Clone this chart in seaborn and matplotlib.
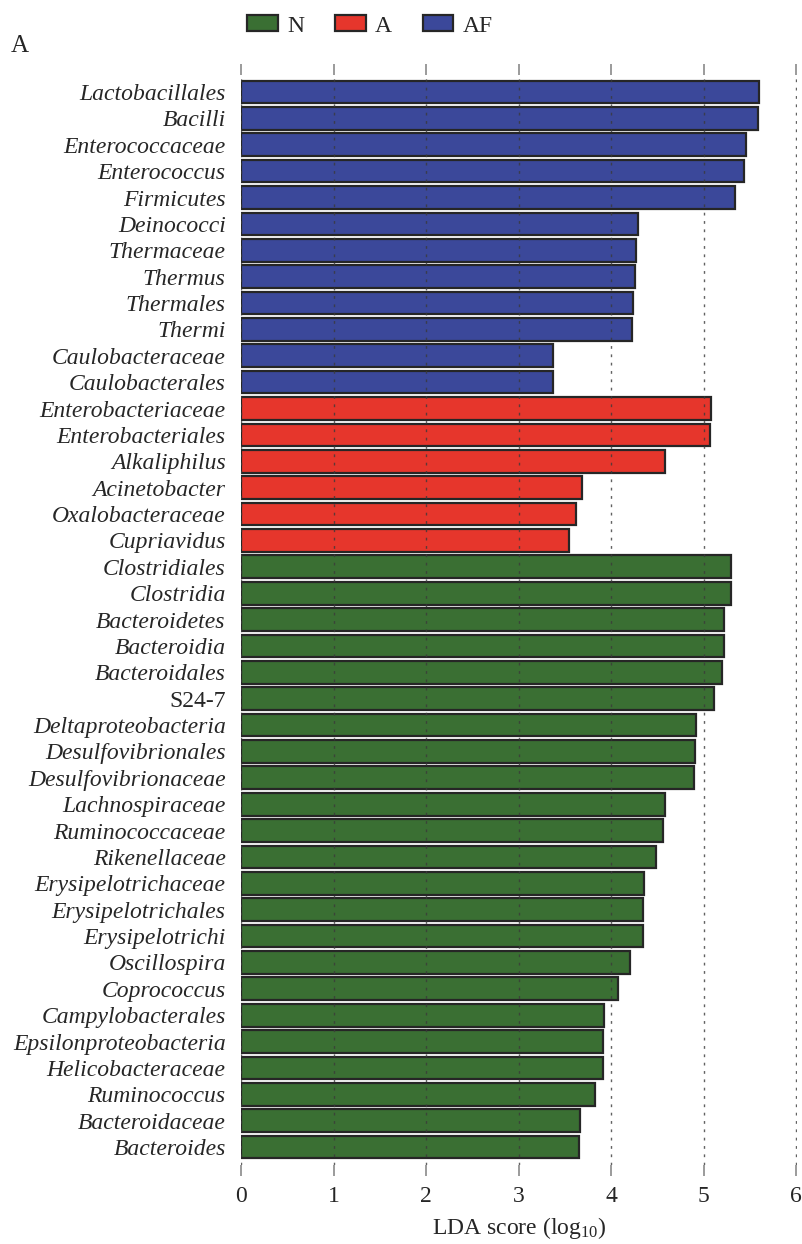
import matplotlib
matplotlib.use("Agg")
import matplotlib.pyplot as plt
from matplotlib.patches import Patch
import pandas as pd
import seaborn as sns

# LEfSe results: taxa enriched in each group with their LDA scores (log10)
af_taxa = ["Lactobacillales", "Bacilli", "Enterococcaceae", "Enterococcus", "Firmicutes",
           "Deinococci", "Thermaceae", "Thermus", "Thermales", "Thermi",
           "Caulobacteraceae", "Caulobacterales"]
af_scores = [5.60, 5.59, 5.46, 5.44, 5.34, 4.29, 4.27, 4.26, 4.24, 4.23, 3.37, 3.37]

a_taxa = ["Enterobacteriaceae", "Enterobacteriales", "Alkaliphilus", "Acinetobacter",
          "Oxalobacteraceae", "Cupriavidus"]
a_scores = [5.08, 5.07, 4.58, 3.69, 3.62, 3.55]

n_taxa = ["Clostridiales", "Clostridia", "Bacteroidetes", "Bacteroidia", "Bacteroidales",
          "S24-7", "Deltaproteobacteria", "Desulfovibrionales", "Desulfovibrionaceae",
          "Lachnospiraceae", "Ruminococcaceae", "Rikenellaceae", "Erysipelotrichaceae",
          "Erysipelotrichales", "Erysipelotrichi", "Oscillospira", "Coprococcus",
          "Campylobacterales", "Epsilonproteobacteria", "Helicobacteraceae",
          "Ruminococcus", "Bacteroidaceae", "Bacteroides"]
n_scores = [5.30, 5.30, 5.22, 5.22, 5.20, 5.11, 4.92, 4.91, 4.90, 4.58, 4.56, 4.49,
            4.36, 4.35, 4.34, 4.20, 4.08, 3.92, 3.91, 3.91, 3.83, 3.66, 3.65]

groups = ["N", "A", "AF"]
group_colors = {"N": "#3a6f33", "A": "#e6362c", "AF": "#3b489a"}
x_ticks = [0, 1, 2, 3, 4, 5, 6]
non_italic = {"S24-7"}

df = pd.DataFrame({
    "taxon": af_taxa + a_taxa + n_taxa,
    "score": af_scores + a_scores + n_scores,
    "group": ["AF"] * len(af_taxa) + ["A"] * len(a_taxa) + ["N"] * len(n_taxa),
})

sns.set_style("white")
plt.rcParams["font.family"] = ["Liberation Serif", "DejaVu Serif"]
plt.rcParams["mathtext.fontset"] = "custom"
plt.rcParams["mathtext.rm"] = "Liberation Serif"
plt.rcParams["mathtext.it"] = "Liberation Serif:italic"

fig = plt.figure(figsize=(8.02, 12.44), dpi=100)
ax = fig.add_axes([241 / 802, 1 - 1165 / 1244, 556 / 802, 1090 / 1244])

sns.barplot(data=df, x="score", y="taxon", hue="group", palette=group_colors,
            order=df["taxon"].tolist(), dodge=False, width=0.86, saturation=1,
            edgecolor="#262626", linewidth=1.6, legend=False, ax=ax)

# keep the bars underneath the dotted grid
for p in ax.patches:
    p.set_zorder(0.5)
ax.set_axisbelow(False)

ax.set_xlim(0, 6.01)
ax.set_ylim(len(df) - 1 + 0.68, -0.645)
ax.set_xticks(x_ticks)
ax.set_xticklabels([str(t) for t in x_ticks], fontsize=17)
ax.set_ylabel("")
ax.set_xlabel("LDA score (log$_{10}$)", fontsize=17, labelpad=6)

for lbl in ax.get_yticklabels():
    lbl.set_fontsize(17)
    if lbl.get_text() not in non_italic:
        lbl.set_fontstyle("italic")

for s in ax.spines.values():
    s.set_visible(False)

ax.tick_params(axis="y", length=0, pad=11)
ax.tick_params(axis="x", top=True, bottom=True, direction="out", length=8,
               width=1.2, color="#8a8a8a", pad=7)

ax.grid(axis="x", linestyle=(0, (2, 4)), color="#3a3a3a", linewidth=1.0, alpha=0.8)
ax.grid(axis="y", visible=False)

handles = [Patch(facecolor=group_colors[g], edgecolor="#262626", linewidth=1.6, label=g)
           for g in groups]
fig.legend(handles=handles, loc="center", bbox_to_anchor=(370 / 802, 1 - 26 / 1244),
           ncol=3, frameon=False, fontsize=17, handlelength=1.3, handleheight=0.65,
           handletextpad=0.4, columnspacing=1.3)

fig.text(11 / 802, 1 - 46 / 1244, "A", fontsize=18, ha="left", va="center")

fig.savefig("out.png", dpi=100)
